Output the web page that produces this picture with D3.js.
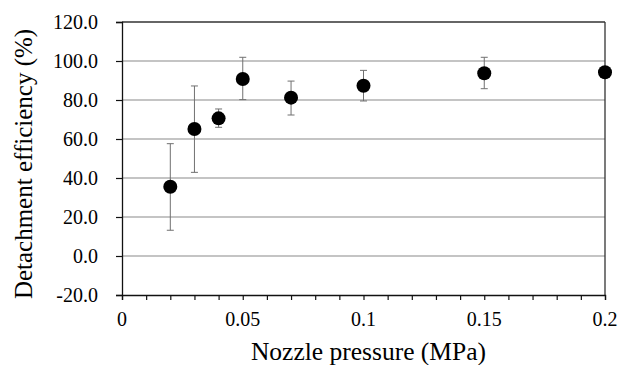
<!DOCTYPE html>
<html>
<head>
<meta charset="utf-8">
<script src="https://cdn.jsdelivr.net/npm/d3@7"></script>
<style>
  body { margin: 0; background: #fff; }
</style>
</head>
<body>
<div id="chart"></div>
<script>
// data
const pressure = [0.02, 0.03, 0.04, 0.05, 0.07, 0.1, 0.15, 0.2];
const efficiency = [35.5, 65.1, 70.6, 90.8, 81.2, 87.3, 93.7, 94.2];
const errLow = [13.2, 42.9, 66.0, 80.2, 72.3, 79.5, 85.8, 94.2];
const errHigh = [57.6, 87.2, 75.4, 101.9, 89.7, 95.2, 101.9, 94.2];
const yTicks = [-20, 0, 20, 40, 60, 80, 100, 120];
const xLabels = [0, 0.05, 0.1, 0.15, 0.2];

const FONT = "Liberation Serif";
const W = 620, H = 365;
const margin = { top: 22, right: 15, bottom: 70, left: 122 };
const width = W - margin.left - margin.right;
const height = H - margin.top - margin.bottom;

const svg = d3.select("#chart")
    .append("svg")
    .attr("width", W)
    .attr("height", H)
    .append("g")
    .attr("transform", `translate(${margin.left}, ${margin.top})`);

const x = d3.scaleLinear().domain([0, 0.2]).range([0, width]);
const y = d3.scaleLinear().domain([-20, 120]).range([height, 0]);

// horizontal gridlines
svg.append("g")
    .selectAll("line")
    .data(yTicks.filter(d => d > -20 && d < 120))
    .join("line")
    .attr("x1", 0).attr("x2", width)
    .attr("y1", d => y(d)).attr("y2", d => y(d))
    .style("stroke", "#8a8a8a")
    .style("stroke-width", 1.2);

// top and right frame
svg.append("line")
    .attr("x1", 0).attr("x2", width).attr("y1", 0).attr("y2", 0)
    .style("stroke", "#333").style("stroke-width", 1.3);
svg.append("line")
    .attr("x1", width).attr("x2", width).attr("y1", 0).attr("y2", height)
    .style("stroke", "#333").style("stroke-width", 1.3);

// y axis lines + ticks
const yAxis = svg.append("g")
    .call(d3.axisLeft(y).tickValues(yTicks).tickSize(6).tickFormat(""));
yAxis.select(".domain").style("stroke", "#111").style("stroke-width", 1.3);
yAxis.selectAll(".tick line").style("stroke", "#111").style("stroke-width", 1.2);

// y tick labels (hyphen minus like the original)
svg.append("g")
    .selectAll("text")
    .data(yTicks)
    .join("text")
    .attr("x", -24)
    .attr("y", d => y(d))
    .attr("dy", "0.34em")
    .style("text-anchor", "end")
    .style("font-family", FONT)
    .style("font-size", "20px")
    .text(d => d.toFixed(1));

// x axis: minor ticks every 0.01
const xAxis = svg.append("g")
    .attr("transform", `translate(0, ${height})`)
    .call(d3.axisBottom(x).tickValues(d3.range(0, 21).map(i => i / 100))
        .tickSize(5).tickFormat(""));
xAxis.select(".domain").style("stroke", "#111").style("stroke-width", 1.3);
xAxis.selectAll(".tick line").style("stroke", "#111").style("stroke-width", 1.2);

// x tick labels every 0.05
svg.append("g")
    .selectAll("text")
    .data(xLabels)
    .join("text")
    .attr("x", d => x(d))
    .attr("y", height + 31)
    .style("text-anchor", "middle")
    .style("font-family", FONT)
    .style("font-size", "20px")
    .text(d => String(d));

// axis titles
svg.append("text")
    .attr("x", width / 2 + 5)
    .attr("y", height + 65)
    .style("text-anchor", "middle")
    .style("font-family", FONT)
    .style("font-size", "25.5px")
    .text("Nozzle pressure (MPa)");

svg.append("text")
    .attr("transform", `translate(${-margin.left + 32}, ${height / 2 + 5.5}) rotate(-90)`)
    .style("text-anchor", "middle")
    .style("font-family", FONT)
    .style("font-size", "25px")
    .text("Detachment efficiency (%)");

// error bars
const capW = 3.5;
pressure.forEach((p, i) => {
    if (errHigh[i] - errLow[i] < 1) return;
    const cx = x(p);
    const g = svg.append("g").style("stroke", "#707070").style("stroke-width", 1);
    g.append("line").attr("x1", cx).attr("x2", cx).attr("y1", y(errHigh[i])).attr("y2", y(errLow[i]));
    g.append("line").attr("x1", cx - capW).attr("x2", cx + capW).attr("y1", y(errHigh[i])).attr("y2", y(errHigh[i]));
    g.append("line").attr("x1", cx - capW).attr("x2", cx + capW).attr("y1", y(errLow[i])).attr("y2", y(errLow[i]));
});

// points
svg.append("g")
    .selectAll("circle")
    .data(pressure)
    .join("circle")
    .attr("cx", d => x(d))
    .attr("cy", (d, i) => y(efficiency[i]))
    .attr("r", 7)
    .style("fill", "#000");
</script>
</body>
</html>
